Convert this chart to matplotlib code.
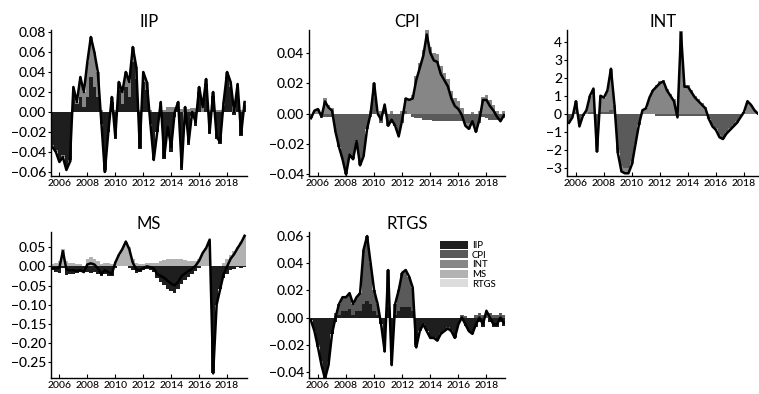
import numpy as np
import pandas as pd
import matplotlib
matplotlib.use('Agg')
import matplotlib.pyplot as plt
from matplotlib.patches import Patch

plt.rcParams['font.family'] = ['Lato', 'DejaVu Sans']
plt.rcParams['font.weight'] = 'medium'

# quarterly sample, 2005Q3 - 2019Q2
quarters = pd.period_range('2005Q3', '2019Q2', freq='Q')
shocks = ['IIP', 'CPI', 'INT', 'MS', 'RTGS']
shock_colors = ['#1e1e1e', '#5a5a5a', '#868686', '#b2b2b2', '#dcdcdc']

# ---- IIP panel ----
iip_total = [-0.035, -0.040, -0.050, -0.045, -0.058, -0.050, 0.025, 0.010, 0.035, 0.020,
             0.050, 0.075, 0.060, 0.040, -0.010, -0.060, -0.020, 0.015, -0.025, 0.030,
             0.020, 0.040, 0.030, 0.065, 0.045, -0.035, 0.040, 0.030, -0.010, -0.048,
             -0.020, 0.010, -0.045, -0.015, -0.035, 0.000, 0.010, -0.055, 0.005, -0.030,
             0.000, -0.010, 0.025, 0.005, 0.033, -0.020, 0.020, -0.025, -0.030, 0.010,
             0.040, 0.030, 0.000, 0.028, -0.022, 0.010]
iip_by_iip = [-0.033, -0.038, -0.048, -0.043, -0.055, -0.048, 0.022, 0.008, 0.015, 0.005,
              0.015, 0.035, 0.025, 0.015, -0.012, -0.058, -0.020, 0.010, -0.027, 0.022,
              0.008, 0.025, 0.015, 0.050, 0.033, -0.037, 0.030, 0.022, -0.012, -0.048,
              -0.020, 0.005, -0.047, -0.020, -0.040, -0.005, 0.003, -0.058, 0.000, -0.033,
              -0.004, -0.014, 0.020, 0.000, 0.028, -0.022, 0.016, -0.027, -0.032, 0.006,
              0.035, 0.025, -0.003, 0.024, -0.024, 0.007]
iip_by_int = [-0.002, -0.002, -0.002, -0.002, -0.003, -0.002, 0.003, 0.002, 0.020, 0.015,
              0.035, 0.040, 0.035, 0.025, 0.002, -0.002, 0.000, 0.005, 0.002, 0.008,
              0.012, 0.015, 0.015, 0.015, 0.012, 0.002, 0.010, 0.008, 0.002, 0.000,
              0.000, 0.005, 0.002, 0.005, 0.005, 0.005, 0.007, 0.003, 0.005, 0.003,
              0.004, 0.004, 0.005, 0.005, 0.005, 0.002, 0.004, 0.002, 0.002, 0.004,
              0.005, 0.005, 0.003, 0.004, 0.002, 0.003]

# ---- CPI panel ----
cpi_total = [-0.003, 0.002, 0.003, -0.002, 0.008, 0.004, 0.002, -0.012, -0.022, -0.030,
             -0.040, -0.027, -0.030, -0.018, -0.034, -0.028, -0.010, 0.000, 0.020, 0.000,
             -0.004, 0.006, -0.008, -0.004, -0.008, -0.015, -0.004, 0.010, 0.009, 0.010,
             0.022, 0.030, 0.038, 0.052, 0.040, 0.035, 0.034, 0.026, 0.022, 0.018,
             0.010, 0.005, 0.003, -0.001, -0.008, -0.010, -0.005, -0.012, -0.004, 0.009,
             0.009, 0.005, 0.002, -0.002, -0.005, -0.001]
cpi_by_cpi = [-0.003, 0.000, 0.000, -0.003, -0.002, -0.002, -0.002, -0.012, -0.022, -0.030,
              -0.040, -0.027, -0.030, -0.018, -0.034, -0.028, -0.010, -0.002, 0.010, 0.000,
              -0.006, 0.002, -0.008, -0.006, -0.008, -0.015, -0.006, 0.002, 0.000, -0.002,
              -0.003, -0.003, -0.004, -0.004, -0.004, -0.005, -0.005, -0.005, -0.005, -0.005,
              -0.005, -0.005, -0.005, -0.005, -0.006, -0.006, -0.006, -0.008, -0.006, -0.002,
              -0.003, -0.004, -0.004, -0.004, -0.005, -0.003]
cpi_by_int = [0.000, 0.002, 0.003, 0.001, 0.010, 0.006, 0.004, 0.000, 0.000, 0.000,
              0.000, 0.000, 0.000, 0.000, 0.000, 0.000, 0.000, 0.002, 0.010, 0.000,
              0.002, 0.004, 0.000, 0.002, 0.000, 0.000, 0.002, 0.008, 0.009, 0.012,
              0.025, 0.033, 0.042, 0.056, 0.044, 0.040, 0.039, 0.031, 0.027, 0.023,
              0.015, 0.010, 0.008, 0.004, -0.002, -0.004, 0.001, -0.004, 0.002, 0.011,
              0.012, 0.009, 0.006, 0.002, 0.000, 0.002]

# ---- INT panel ----
int_total = [-0.5, -0.2, 0.7, -0.7, -0.1, 0.2, 1.0, 1.4, -2.1, 1.0,
             0.9, 1.3, 2.5, 0.5, -2.2, -3.2, -3.3, -3.3, -2.8, -1.7,
             -0.6, 0.2, 0.3, 0.9, 1.3, 1.5, 1.7, 1.8, 1.3, 1.0,
             0.7, -0.2, 4.5, 1.5, 1.5, 1.2, 0.9, 0.7, 0.5, 0.3,
             -0.3, -0.7, -0.9, -1.3, -1.4, -1.1, -0.9, -0.7, -0.5, -0.2,
             0.1, 0.7, 0.5, 0.2, 0.0, -0.1]
int_by_int = [-0.1, 0.0, 0.6, -0.1, 0.0, 0.2, 0.9, 1.3, -0.3, 0.9,
              0.8, 1.2, 2.3, 0.5, -0.2, -0.3, -0.3, -0.3, -0.2, -0.1,
              0.0, 0.2, 0.3, 0.9, 1.3, 1.6, 1.8, 1.9, 1.4, 1.1,
              0.8, 0.0, 4.6, 1.6, 1.6, 1.3, 1.0, 0.8, 0.6, 0.4,
              0.0, -0.1, -0.1, -0.1, -0.1, -0.1, -0.1, -0.1, -0.1, 0.0,
              0.1, 0.7, 0.5, 0.2, 0.0, 0.0]
int_by_cpi = [-0.4, -0.2, 0.1, -0.6, -0.1, 0.0, 0.1, 0.1, -1.8, 0.1,
              0.1, 0.1, 0.2, 0.0, -2.0, -2.9, -3.0, -3.0, -2.6, -1.6,
              -0.6, 0.0, 0.0, 0.0, 0.0, -0.1, -0.1, -0.1, -0.1, -0.1,
              -0.1, -0.2, -0.1, -0.1, -0.1, -0.1, -0.1, -0.1, -0.1, -0.1,
              -0.3, -0.6, -0.8, -1.2, -1.3, -1.0, -0.8, -0.6, -0.4, -0.2,
              0.0, 0.0, 0.0, 0.0, 0.0, -0.1]

# ---- MS panel ----
ms_total = [-0.005, -0.005, -0.003, 0.040, -0.008, -0.010, -0.010, -0.012, -0.010, -0.015,
            0.005, 0.008, 0.005, -0.005, -0.020, -0.010, -0.015, -0.020, 0.010, 0.030,
            0.045, 0.065, 0.045, 0.010, -0.008, -0.010, -0.005, 0.000, -0.002, -0.005,
            -0.020, -0.025, -0.030, -0.038, -0.045, -0.050, -0.040, -0.025, -0.018, -0.012,
            -0.006, 0.002, 0.015, 0.035, 0.048, 0.070, -0.280, -0.100, -0.060, -0.020,
            0.000, 0.020, 0.032, 0.048, 0.062, 0.080]
ms_by_ms = [0.005, 0.010, 0.015, 0.045, 0.015, 0.010, 0.010, 0.005, 0.005, 0.000,
            0.020, 0.025, 0.020, 0.015, 0.005, 0.010, 0.010, 0.005, 0.015, 0.030,
            0.045, 0.065, 0.050, 0.020, 0.008, 0.005, 0.005, 0.008, 0.008, 0.010,
            0.010, 0.015, 0.018, 0.020, 0.020, 0.020, 0.020, 0.020, 0.018, 0.015,
            0.015, 0.015, 0.020, 0.035, 0.048, 0.070, 0.000, 0.000, 0.000, 0.010,
            0.020, 0.030, 0.040, 0.050, 0.065, 0.082]
ms_by_iip = [-0.010, -0.015, -0.018, -0.005, -0.023, -0.020, -0.020, -0.017, -0.015, -0.015,
             -0.015, -0.017, -0.015, -0.020, -0.025, -0.020, -0.025, -0.025, -0.005, 0.000,
             0.000, 0.000, -0.005, -0.010, -0.016, -0.015, -0.010, -0.008, -0.010, -0.015,
             -0.030, -0.040, -0.048, -0.058, -0.065, -0.070, -0.060, -0.045, -0.036, -0.027,
             -0.021, -0.013, -0.005, 0.000, 0.000, 0.000, -0.280, -0.100, -0.060, -0.030,
             -0.020, -0.010, -0.008, -0.002, -0.003, -0.002]

# ---- RTGS panel ----
rtgs_total = [-0.002, -0.010, -0.022, -0.035, -0.045, -0.035, -0.012, 0.000, 0.010, 0.015,
              0.015, 0.018, 0.010, 0.015, 0.018, 0.050, 0.060, 0.040, 0.020, 0.010,
              -0.005, -0.025, 0.035, -0.035, 0.010, 0.020, 0.033, 0.035, 0.030, 0.022,
              -0.022, -0.010, -0.005, -0.010, -0.015, -0.015, -0.017, -0.012, -0.010, -0.008,
              -0.010, -0.015, -0.005, 0.000, -0.005, -0.010, -0.012, -0.005, 0.000, -0.005,
              0.005, 0.000, -0.005, -0.005, 0.000, -0.004]
rtgs_by_iip = [-0.002, -0.010, -0.020, -0.032, -0.042, -0.033, -0.012, -0.003, 0.002, 0.005,
               0.005, 0.006, 0.002, 0.005, 0.005, 0.010, 0.012, 0.010, 0.005, 0.002,
               -0.005, -0.020, 0.008, -0.030, 0.002, 0.005, 0.008, 0.008, 0.008, 0.005,
               -0.020, -0.009, -0.005, -0.010, -0.014, -0.014, -0.016, -0.011, -0.009, -0.007,
               -0.009, -0.014, -0.005, -0.002, -0.006, -0.010, -0.012, -0.007, -0.003, -0.007,
               0.000, -0.003, -0.007, -0.007, -0.003, -0.006]
rtgs_by_cpi = [0.000, 0.000, -0.002, -0.003, -0.003, -0.002, 0.000, 0.003, 0.008, 0.010,
               0.010, 0.012, 0.008, 0.010, 0.013, 0.040, 0.048, 0.030, 0.015, 0.008,
               0.000, -0.005, 0.027, -0.005, 0.008, 0.015, 0.025, 0.027, 0.022, 0.017,
               -0.002, -0.001, 0.000, 0.000, -0.001, -0.001, -0.001, -0.001, -0.001, -0.001,
               -0.001, -0.001, 0.000, 0.002, 0.001, 0.000, 0.000, 0.002, 0.003, 0.002,
               0.005, 0.003, 0.002, 0.002, 0.003, 0.002]

iip_yticks = [-0.06, -0.04, -0.02, 0.0, 0.02, 0.04, 0.06, 0.08]
cpi_yticks = [-0.04, -0.02, 0.0, 0.02, 0.04]
int_yticks = [-3, -2, -1, 0, 1, 2, 3, 4]
ms_yticks = [-0.25, -0.20, -0.15, -0.10, -0.05, 0.0, 0.05]
rtgs_yticks = [-0.04, -0.02, 0.0, 0.02, 0.04, 0.06]
year_ticks = [2006, 2008, 2010, 2012, 2014, 2016, 2018]

x = np.array([q.year + (q.quarter - 1) / 4 for q in quarters])

panels = [
    ('IIP', iip_total, {'IIP': iip_by_iip, 'INT': iip_by_int}, iip_yticks, '%.2f',
     (-0.064, 0.082), [0.0672, 0.5533, 0.2582, 0.3706], (2005.4, 2019.42)),
    ('CPI', cpi_total, {'CPI': cpi_by_cpi, 'INT': cpi_by_int}, cpi_yticks, '%.2f',
     (-0.041, 0.055), [0.4071, 0.5533, 0.2582, 0.3706], (2005.36, 2019.32)),
    ('INT', int_total, {'CPI': int_by_cpi, 'INT': int_by_int}, int_yticks, '%d',
     (-3.45, 4.65), [0.7470, 0.5533, 0.2520, 0.3706], (2005.36, 2019.02)),
    ('MS', ms_total, {'IIP': ms_by_iip, 'MS': ms_by_ms}, ms_yticks, '%.2f',
     (-0.292, 0.09), [0.0672, 0.0406, 0.2582, 0.3706], (2005.4, 2019.42)),
    ('RTGS', rtgs_total, {'IIP': rtgs_by_iip, 'CPI': rtgs_by_cpi}, rtgs_yticks, '%.2f',
     (-0.0445, 0.063), [0.4071, 0.0406, 0.2582, 0.3706], (2005.36, 2019.32)),
]

fig = plt.figure(figsize=(7.59, 3.94), dpi=100)

for title, total, contrib, yticks, fmt, ylim, pos, xlim in panels:
    ax = fig.add_axes(pos)
    pos_base = np.zeros(len(x))
    neg_base = np.zeros(len(x))
    for name, col in zip(shocks, shock_colors):
        if name not in contrib:
            continue
        v = np.array(contrib[name])
        up = np.where(v > 0, v, 0)
        dn = np.where(v < 0, v, 0)
        ax.bar(x, up, width=0.25, bottom=pos_base, color=col, linewidth=0)
        ax.bar(x, dn, width=0.25, bottom=neg_base, color=col, linewidth=0)
        pos_base += up
        neg_base += dn
    ax.plot(x, total, color='black', lw=1.8, solid_joinstyle='round')

    ax.set_xlim(*xlim)
    ax.set_ylim(*ylim)
    ax.set_yticks(yticks)
    ax.set_yticklabels([(fmt % t).replace('-', '\u2212') for t in yticks])
    ax.set_xticks(year_ticks)
    ax.set_xticklabels([str(y) for y in year_ticks])
    ax.tick_params(axis='x', direction='in', length=3, labelsize=7.5, pad=2.5)
    ax.tick_params(axis='y', direction='out', length=2, labelsize=10, pad=1.5)
    for s in ['top', 'right']:
        ax.spines[s].set_visible(False)
    for s in ['left', 'bottom']:
        ax.spines[s].set_linewidth(1.0)
    ax.set_title(title, fontsize=12, pad=2)

    if title == 'RTGS':
        handles = [Patch(facecolor=c, edgecolor='none') for c in shock_colors]
        ax.legend(handles, shocks, loc='upper left', bbox_to_anchor=(0.668, 0.94),
                  frameon=False, fontsize=6.8, handlelength=3.0, handleheight=0.9,
                  labelspacing=0.05, handletextpad=0.4, borderpad=0, borderaxespad=0)

fig.savefig('out.png', dpi=100)
